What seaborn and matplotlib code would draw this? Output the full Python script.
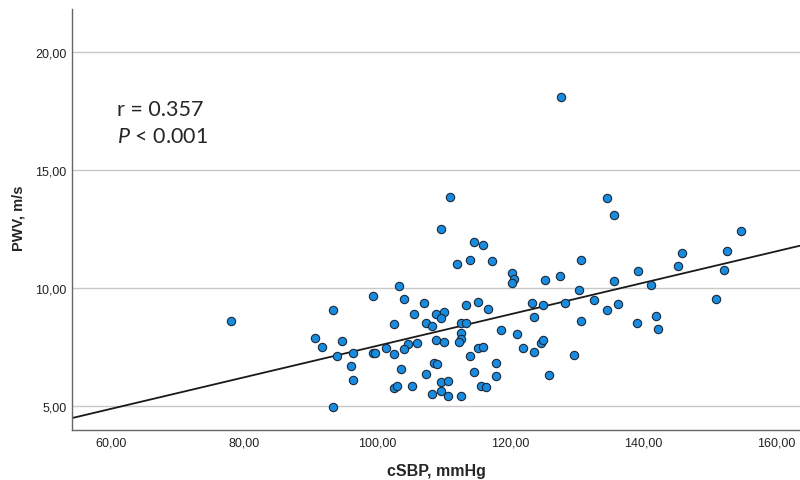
import matplotlib
matplotlib.use("Agg")
import matplotlib.pyplot as plt
from matplotlib.ticker import FuncFormatter
import seaborn as sns
import pandas as pd

# Data
csbp = [78.0, 93.3, 99.3, 90.7, 91.7, 94.7, 94.0, 96.3, 99.3, 99.7, 96.0, 96.3, 93.3,
        111.0, 109.6, 114.6, 115.9, 112.0, 113.9, 117.3, 120.3, 120.6, 120.3, 125.3, 127.5,
        103.3, 104.0, 107.0, 113.3, 115.2, 116.6, 123.3, 124.9, 123.6, 105.6, 108.9, 110.0,
        109.6, 102.6, 107.3, 108.3, 112.6, 113.3, 112.6, 118.6, 121.0, 112.6, 112.3, 108.9,
        110.0, 106.0, 104.7, 104.0, 101.3, 102.6, 115.2, 115.9, 113.9, 121.9, 123.6, 124.6,
        124.9, 108.6, 109.0, 117.8, 103.6, 107.3, 114.6, 117.9, 125.9, 109.6, 110.6, 102.6,
        103.0, 105.3, 115.6, 116.3, 109.6, 108.3, 110.6, 112.6, 134.6, 135.6, 154.8, 152.6,
        145.9, 145.2, 152.2, 130.6, 139.2, 135.6, 141.2, 130.3, 150.9, 128.2, 132.6, 136.2,
        134.6, 130.6, 139.1, 141.9, 142.2, 129.6, 127.6]
pwv = [8.62, 9.07, 9.68, 7.88, 7.52, 7.78, 7.12, 7.27, 7.27, 7.27, 6.71, 6.13, 4.98,
       13.87, 12.52, 11.93, 11.81, 11.03, 11.18, 11.13, 10.63, 10.38, 10.21, 10.34, 10.53,
       10.11, 9.54, 9.37, 9.27, 9.42, 9.13, 9.37, 9.28, 8.78, 8.92, 8.92, 8.97,
       8.73, 8.47, 8.52, 8.41, 8.52, 8.52, 8.11, 8.21, 8.07, 7.85, 7.73, 7.82,
       7.73, 7.68, 7.62, 7.41, 7.48, 7.23, 7.48, 7.52, 7.13, 7.48, 7.29, 7.67,
       7.82, 6.85, 6.78, 6.84, 6.58, 6.37, 6.44, 6.27, 6.33, 6.03, 6.09, 5.78,
       5.88, 5.88, 5.88, 5.82, 5.64, 5.53, 5.43, 5.43, 13.83, 13.08, 12.43, 11.57,
       11.49, 10.93, 10.77, 11.18, 10.73, 10.28, 10.13, 9.94, 9.54, 9.38, 9.49, 9.34,
       9.09, 8.62, 8.52, 8.83, 8.27, 7.19, 18.09]
x_ticks = [60, 80, 100, 120, 140, 160]
y_ticks = [5, 10, 15, 20]
stat_r = "r = 0.357"
stat_p = " < 0.001"

df = pd.DataFrame({"cSBP": csbp, "PWV": pwv})

sns.set_style("white")
plt.rcParams["font.family"] = ["Liberation Sans", "DejaVu Sans"]
plt.rcParams["mathtext.fontset"] = "custom"
plt.rcParams["mathtext.it"] = "Lato:italic"
plt.rcParams["mathtext.rm"] = "Lato"

fig = plt.figure(figsize=(8, 4.81), dpi=100)
ax = fig.add_axes([0.09, 0.104, 0.91, 0.875])
ax.set_xlim(54.1, 163.6)
ax.set_ylim(4.0, 21.8)

sns.regplot(data=df, x="cSBP", y="PWV", ax=ax, ci=None, truncate=False,
            scatter_kws=dict(s=36, color="#1a8ce0", edgecolor="#1b2a3a",
                             linewidths=0.8, alpha=1, zorder=3),
            line_kws=dict(color="#1a1a1a", lw=1.3, zorder=2))

ax.set_xticks(x_ticks)
ax.set_yticks(y_ticks)
fmt = FuncFormatter(lambda v, p: f"{v:.2f}".replace(".", ","))
ax.xaxis.set_major_formatter(fmt)
ax.yaxis.set_major_formatter(fmt)
ax.tick_params(axis="both", length=0, labelsize=9, colors="#222222")
ax.tick_params(axis="x", pad=5)
ax.tick_params(axis="y", pad=4)

ax.yaxis.grid(True, color="#c8c8c8", lw=1)
ax.xaxis.grid(False)
ax.set_axisbelow(True)
for s in ["top", "right"]:
    ax.spines[s].set_visible(False)
for s in ["left", "bottom"]:
    ax.spines[s].set_color("#666666")
    ax.spines[s].set_linewidth(1)

ax.set_xlabel("cSBP, mmHg", fontsize=11.5, fontweight="bold", va="center")
ax.set_ylabel("PWV, m/s", fontsize=10.5, fontweight="bold", va="center")
ax.xaxis.set_label_coords(0.5, -0.0974)
ax.yaxis.set_label_coords(-0.073, 0.506)

ax.text(0.062, 0.762, stat_r, transform=ax.transAxes, fontsize=15.5,
        family="Lato", va="center", ha="left")
ax.text(0.062, 0.698, r"$\mathit{P}$" + stat_p, transform=ax.transAxes, fontsize=15.5,
        family="Lato", va="center", ha="left")

fig.savefig("out.png", dpi=100)
